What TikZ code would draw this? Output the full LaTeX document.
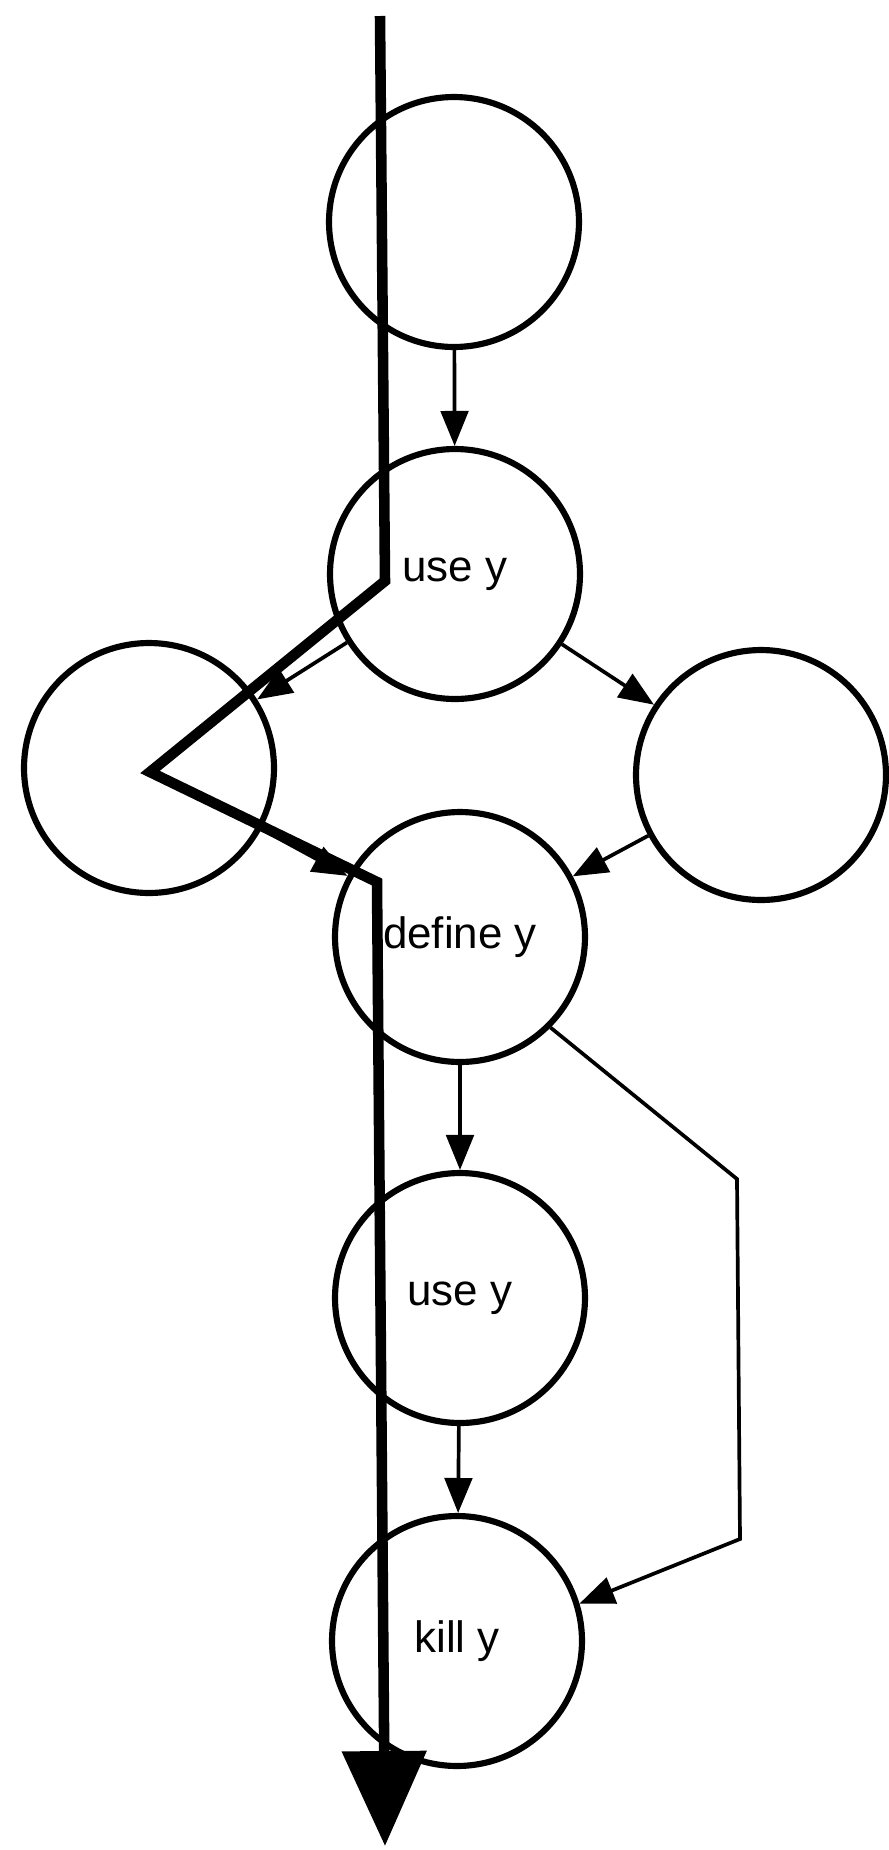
\documentclass[tikz,border=0pt]{standalone}
\usepackage{fontspec}
\setmainfont{Liberation Sans}
\usepackage{tikz}
\usetikzlibrary{arrows.meta}

\begin{document}
\begin{tikzpicture}[
x=0.02cm, y=-0.02cm,
every node/.style={align=center, font=\fontsize{25}{30}\selectfont},
arrow/.style={-{Triangle[length=0.7cm, width=0.55cm]}, line width=2.1pt},
flowpath/.style={-{Triangle[length=1.9cm, width=1.65cm]}, line width=6pt}
]

% Define styles
\tikzstyle{block} = [circle, draw=black, line width=3.5pt, minimum size=5cm, inner sep=0pt]

\useasboundingbox (0,0) rectangle (889,1850);

% Nodes
\node (entry) [block] at (454,222) {};

\node (use1) [block] at (455,574) {use y};

\node (left) [block] at (149,768) {};

\node (right) [block] at (761,775) {};

\node (def) [block] at (460,937) {define y};

\node (use2) [block] at (460,1298) {use y};

\node (kill) [block] at (457,1641) {kill y};

% Arrows
\draw [arrow] (entry) -- (use1);
\draw [arrow] (use1) -- (left);
\draw [arrow] (use1) -- (right);
\draw [arrow] (left) -- (def);
\draw [arrow] (right) -- (def);
\draw [arrow] (def) -- (use2);
\draw [arrow] (use2) -- (kill);

\coordinate (bendA) at (737,1179);
\coordinate (bendB) at (740,1539);
\draw [arrow] (def.-45) -- (bendA) -- (bendB) -- (kill.17);

% Path through the graph
\coordinate (p0) at (380,16);
\coordinate (p1) at (385,581);
\coordinate (p2) at (150,772);
\coordinate (p3) at (377,882);
\coordinate (p4) at (385,1846);
\draw [flowpath] (p0) -- (p1) -- (p2) -- (p3) -- (p4);

\end{tikzpicture}
\end{document}
